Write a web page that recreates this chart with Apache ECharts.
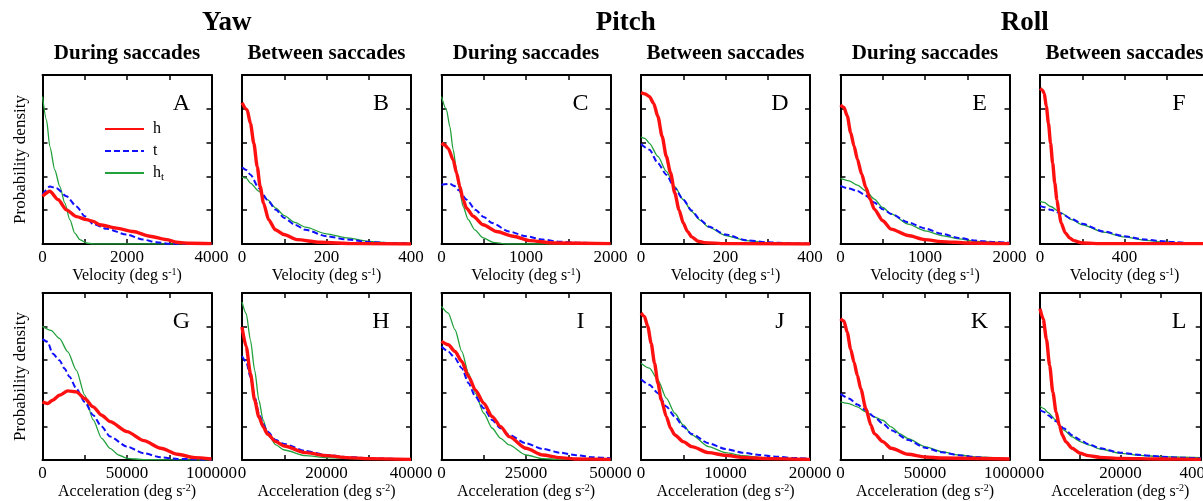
<!DOCTYPE html>
<html>
<head>
<meta charset="utf-8">
<script src="https://cdn.jsdelivr.net/npm/echarts@6/dist/echarts.min.js"></script>
<style>
html,body{margin:0;padding:0;background:#fff;overflow:hidden;}
#chart{width:1225px;height:501px;}
</style>
</head>
<body>
<div id="chart"></div>
<script>
// ---------- DATA ----------
const groupTitles = ['Yaw', 'Pitch', 'Roll'];
const columnTitles = ['During saccades', 'Between saccades'];
const panelLetters = ['A','B','C','D','E','F','G','H','I','J','K','L'];
const velocityMax = [4000, 400, 2000, 400, 2000, 800];
const accelerationMax = [100000, 40000, 50000, 20000, 100000, 40000];
const seriesNames = ['h', 't', 'h_t'];

// Row 1: velocity
const A_h  = [[0,1.41],[174,1.56],[371,1.31],[568,1.01],[805,0.81],[1041,0.72],[1199,0.67],[1357,0.57],[1751,0.47],[2146,0.37],[2541,0.23],[2935,0.13],[3172,0.05],[3500,0.02],[4000,0.01]];
const A_t  = [[0,1.46],[174,1.70],[331,1.65],[568,1.41],[805,1.11],[1002,0.82],[1199,0.59],[1515,0.45],[1988,0.28],[2383,0.13],[2698,0.05],[3014,0.01],[4000,0]];
const A_ht = [[0,4.36],[95,3.67],[174,2.88],[292,2.19],[410,1.70],[529,1.21],[647,0.72],[765,0.32],[884,0.13],[1041,0.03],[1200,0],[4000,0]];

const B_h  = [[0,4.18],[12,3.97],[20,3.57],[28,2.98],[36,2.29],[43,1.70],[51,1.21],[63,0.72],[79,0.42],[99,0.28],[130,0.13],[185,0.05],[264,0.01],[400,0]];
const B_t  = [[0,2.27],[10,2.19],[20,2.05],[40,1.65],[60,1.31],[80,1.01],[100,0.77],[125,0.57],[150,0.42],[200,0.23],[250,0.13],[300,0.06],[350,0.03],[400,0.01]];
const B_ht = [[0,1.98],[10,1.95],[20,1.80],[40,1.56],[60,1.31],[80,1.06],[100,0.84],[125,0.64],[150,0.50],[200,0.30],[250,0.18],[300,0.08],[350,0.03],[400,0.02]];

const C_h  = [[0,2.98],[39,2.93],[79,2.83],[138,2.49],[178,2.10],[217,1.70],[256,1.31],[296,1.06],[375,0.82],[493,0.57],[651,0.37],[848,0.23],[1045,0.10],[1321,0.03],[2000,0.01]];
const C_t  = [[0,1.75],[100,1.78],[150,1.72],[200,1.60],[300,1.31],[400,1.01],[500,0.80],[600,0.62],[800,0.37],[1000,0.23],[1200,0.13],[1400,0.07],[1600,0.04],[2000,0.01]];
const C_ht = [[0,4.36],[59,3.97],[99,3.47],[138,2.79],[178,2.19],[209,1.65],[256,1.11],[316,0.72],[394,0.42],[493,0.18],[611,0.05],[769,0],[2000,0]];

const D_h  = [[0,4.48],[10,4.44],[20,4.36],[30,4.16],[40,3.77],[50,3.18],[60,2.59],[70,2.10],[80,1.51],[90,1.01],[100,0.62],[110,0.37],[120,0.21],[135,0.08],[150,0.04],[200,0.01],[400,0]];
const D_t  = [[0,2.96],[20,2.79],[40,2.39],[60,2.05],[80,1.65],[100,1.31],[120,0.99],[140,0.72],[160,0.52],[200,0.28],[250,0.11],[300,0.05],[350,0.02],[400,0.01]];
const D_ht = [[0,3.16],[10,3.12],[20,2.98],[40,2.59],[60,2.15],[80,1.70],[100,1.31],[120,0.96],[140,0.70],[160,0.50],[200,0.25],[250,0.10],[300,0.04],[400,0.01]];

const E_h  = [[0,4.11],[40,4.04],[80,3.79],[120,3.30],[160,2.90],[200,2.51],[250,2.07],[300,1.67],[350,1.33],[400,1.03],[500,0.69],[600,0.44],[800,0.25],[1000,0.13],[1200,0.07],[1500,0.03],[2000,0.01]];
const E_t  = [[0,1.72],[100,1.64],[200,1.57],[300,1.43],[400,1.23],[500,1.03],[600,0.89],[800,0.64],[1000,0.46],[1200,0.30],[1400,0.18],[1600,0.10],[1800,0.06],[2000,0.04]];
const E_ht = [[0,1.94],[100,1.87],[200,1.74],[300,1.57],[400,1.33],[500,1.08],[600,0.89],[800,0.59],[1000,0.39],[1200,0.25],[1400,0.15],[1600,0.08],[2000,0.03]];

const F_h  = [[0,4.60],[10,4.56],[20,4.46],[30,4.07],[40,3.57],[50,2.98],[60,2.39],[70,1.80],[80,1.31],[90,0.92],[100,0.62],[120,0.33],[140,0.18],[160,0.10],[200,0.03],[300,0.01],[800,0.01]];
const F_t  = [[0,1.13],[20,1.09],[50,1.01],[100,0.90],[150,0.74],[200,0.60],[300,0.37],[400,0.23],[500,0.13],[600,0.07],[700,0.03],[800,0.02]];
const F_ht = [[0,1.26],[20,1.23],[50,1.11],[100,0.92],[150,0.72],[200,0.57],[300,0.35],[400,0.21],[500,0.11],[600,0.05],[800,0.02]];

// Row 2: acceleration
const G_h  = [[0,1.74],[3000,1.69],[6000,1.79],[10000,1.94],[15000,2.07],[20000,2.04],[25000,1.84],[30000,1.59],[35000,1.34],[40000,1.15],[50000,0.85],[60000,0.58],[70000,0.35],[80000,0.17],[90000,0.07],[100000,0.03]];
const G_t  = [[0,3.62],[3000,3.54],[6000,3.19],[10000,2.99],[13000,2.74],[16000,2.49],[20000,2.14],[25000,1.74],[30000,1.34],[35000,1.00],[40000,0.70],[50000,0.40],[60000,0.20],[70000,0.08],[80000,0.03],[100000,0.01]];
const G_ht = [[0,4.00],[5000,3.88],[10000,3.64],[15000,3.24],[20000,2.69],[25000,1.94],[30000,1.20],[35000,0.65],[40000,0.35],[45000,0.15],[50000,0.05],[60000,0.01],[100000,0]];

const H_h  = [[0,3.98],[1000,3.39],[2000,2.59],[3000,1.79],[4000,1.29],[5000,1.00],[6000,0.78],[8000,0.55],[10000,0.42],[15000,0.22],[20000,0.13],[25000,0.07],[30000,0.04],[40000,0.02]];
const H_t  = [[0,3.11],[1000,2.94],[2000,2.49],[3000,1.89],[4000,1.39],[5000,1.08],[6000,0.85],[8000,0.60],[10000,0.48],[15000,0.27],[20000,0.15],[25000,0.09],[30000,0.05],[40000,0.02]];
const H_ht = [[0,4.73],[1000,4.38],[2000,3.59],[3000,2.69],[4000,1.79],[5000,1.20],[6000,0.82],[8000,0.45],[10000,0.30],[15000,0.13],[20000,0.07],[30000,0.03],[40000,0.02]];

const I_h  = [[0,3.55],[2000,3.45],[4000,3.25],[6000,2.95],[8000,2.50],[10000,2.10],[12500,1.70],[15000,1.30],[17500,1.00],[20000,0.70],[25000,0.35],[30000,0.15],[35000,0.07],[40000,0.03],[50000,0.02]];
const I_t  = [[0,3.40],[2000,3.25],[4000,3.05],[6000,2.75],[8000,2.30],[10000,1.90],[12500,1.55],[15000,1.20],[17500,0.95],[20000,0.75],[25000,0.50],[30000,0.33],[35000,0.22],[40000,0.14],[45000,0.08],[50000,0.05]];
const I_ht = [[0,4.60],[2000,4.40],[4000,3.90],[6000,3.25],[8000,2.60],[10000,2.00],[12500,1.40],[15000,0.95],[17500,0.65],[20000,0.45],[25000,0.15],[30000,0.04],[35000,0.02],[50000,0.01]];

const J_h  = [[0,4.40],[400,4.30],[800,4.00],[1200,3.50],[1600,2.90],[2000,2.30],[2400,1.80],[3000,1.30],[3500,0.95],[4000,0.75],[5000,0.55],[6000,0.40],[8000,0.22],[10000,0.14],[12000,0.08],[15000,0.04],[20000,0.02]];
const J_t  = [[0,2.42],[1000,2.25],[2000,2.00],[3000,1.60],[4000,1.30],[5000,1.00],[6000,0.78],[8000,0.50],[10000,0.33],[12000,0.22],[14000,0.15],[16000,0.10],[18000,0.06],[20000,0.04]];
const J_ht = [[0,2.90],[1000,2.75],[2000,2.40],[3000,1.85],[4000,1.40],[5000,1.05],[6000,0.75],[8000,0.40],[10000,0.22],[12000,0.13],[15000,0.06],[20000,0.02]];

const K_h  = [[0,4.23],[2000,4.16],[4000,3.82],[6000,3.32],[8000,2.93],[10000,2.53],[12000,2.13],[15000,1.54],[18000,1.04],[20000,0.79],[25000,0.55],[30000,0.35],[40000,0.17],[50000,0.09],[60000,0.06],[100000,0.03]];
const K_t  = [[0,1.98],[5000,1.84],[10000,1.66],[15000,1.49],[20000,1.29],[25000,1.09],[30000,0.89],[40000,0.60],[50000,0.37],[60000,0.23],[70000,0.14],[80000,0.09],[90000,0.05],[100000,0.03]];
const K_ht = [[0,1.74],[5000,1.69],[10000,1.59],[15000,1.44],[20000,1.29],[25000,1.19],[30000,0.99],[35000,0.79],[40000,0.64],[50000,0.40],[60000,0.25],[70000,0.15],[80000,0.09],[100000,0.03]];

const L_h  = [[0,4.53],[800,4.22],[1600,3.62],[2400,2.83],[3200,2.03],[4000,1.44],[4800,1.04],[5600,0.74],[6400,0.55],[8000,0.35],[10000,0.20],[12000,0.13],[15000,0.08],[20000,0.05],[30000,0.03],[40000,0.02]];
const L_t  = [[0,1.49],[1000,1.44],[2000,1.34],[4000,1.16],[6000,0.94],[8000,0.74],[10000,0.60],[12000,0.48],[15000,0.35],[20000,0.22],[25000,0.15],[30000,0.10],[35000,0.07],[40000,0.05]];
const L_ht = [[0,1.61],[1000,1.54],[2000,1.42],[4000,1.19],[6000,0.89],[8000,0.69],[10000,0.55],[12000,0.45],[15000,0.33],[20000,0.20],[25000,0.14],[30000,0.10],[40000,0.07]];

const panelData = [
  [A_h, A_t, A_ht], [B_h, B_t, B_ht], [C_h, C_t, C_ht], [D_h, D_t, D_ht], [E_h, E_t, E_ht], [F_h, F_t, F_ht],
  [G_h, G_t, G_ht], [H_h, H_t, H_ht], [I_h, I_t, I_ht], [J_h, J_t, J_ht], [K_h, K_t, K_ht], [L_h, L_t, L_ht]
];

// ---------- LAYOUT / STYLE ----------
const FONT = "'Liberation Serif', 'DejaVu Serif', serif";
const colLeft = [42.5, 242, 441.5, 641, 840.5, 1040];
const panelW = 169;
const rowTop = [75, 293];
const rowH = [169, 167];
const colors = { h: '#ff1010', t: '#1010ff', h_t: '#22a03c' };

const grids = [], xAxes = [], yAxes = [], series = [], graphics = [];

function nameRich(kind) {
  return kind === 'v'
    ? '{n|Velocity (deg s}{s|-1}{n|)}'
    : '{n|Acceleration (deg s}{s|-2}{n|)}';
}
const nameStyle = {
  rich: {
    n: { fontFamily: FONT, fontSize: 16, color: '#000' },
    s: { fontFamily: FONT, fontSize: 10, color: '#000', padding: [0, 0, 8, 0] }
  }
};

for (let i = 0; i < 12; i++) {
  const row = Math.floor(i / 6), col = i % 6;
  const max = row === 0 ? velocityMax[col] : accelerationMax[col];
  const step = max / 4;
  grids.push({ left: colLeft[col], top: rowTop[row], width: panelW, height: rowH[row], containLabel: false });
  const axisLine = { show: true, onZero: false, lineStyle: { color: '#000', width: 2 } };
  const axisTick = { show: true, inside: true, length: 5, lineStyle: { color: '#000', width: 1.5 } };
  xAxes.push({
    gridIndex: i, type: 'value', min: 0, max: max, interval: step, position: 'bottom',
    axisLine, axisTick, splitLine: { show: false },
    axisLabel: {
      show: true, color: '#000', fontFamily: FONT, fontSize: 17, margin: 5,
      showMinLabel: true, showMaxLabel: i !== 5, hideOverlap: false,
      formatter: v => (Math.round(v / step) % 2 === 0 && !(i === 5 && v === max) ? String(v) : '')
    },
    name: nameRich(row === 0 ? 'v' : 'a'), nameLocation: 'middle', nameGap: 20, nameTextStyle: nameStyle
  });
  xAxes.push({
    gridIndex: i, type: 'value', min: 0, max: max, interval: step, position: 'top',
    axisLine, axisTick, splitLine: { show: false }, axisLabel: { show: false }
  });
  const yLeft = {
    gridIndex: i, type: 'value', min: 0, max: 5, interval: 1, position: 'left',
    axisLine, axisTick, splitLine: { show: false }, axisLabel: { show: false }
  };
  if (col === 0) {
    yLeft.name = 'Probability density';
    yLeft.nameLocation = 'middle';
    yLeft.nameGap = 13;
    yLeft.nameTextStyle = { fontFamily: FONT, fontSize: 17, color: '#000' };
  }
  yAxes.push(yLeft);
  yAxes.push({
    gridIndex: i, type: 'value', min: 0, max: 5, interval: 1, position: 'right',
    axisLine, axisTick, splitLine: { show: false }, axisLabel: { show: false }
  });

  // draw order: h_t, t, h (h on top)
  const order = [2, 1, 0];
  order.forEach(k => {
    const nm = seriesNames[k];
    const ls = k === 0 ? { color: colors.h, width: 3.4, type: 'solid' }
             : k === 1 ? { color: colors.t, width: 2, type: [6, 3] }
             : { color: colors.h_t, width: 1.3, type: 'solid' };
    series.push({
      type: 'line', name: nm, xAxisIndex: 2 * i, yAxisIndex: 2 * i,
      data: panelData[i][k], showSymbol: false, symbol: 'none',
      smooth: 0.25, smoothMonotone: 'x',
      lineStyle: ls, itemStyle: { color: ls.color },
      emphasis: { disabled: true }, silent: true, animation: false, z: 3 + (2 - k)
    });
  });

  graphics.push({
    type: 'text', x: colLeft[col] + panelW - 30, y: rowTop[row] + 29,
    style: { text: panelLetters[i], font: '24px ' + FONT, fill: '#000', textAlign: 'center', textVerticalAlign: 'middle' }
  });
}

// Titles
for (let g = 0; g < 3; g++) {
  const cx = (colLeft[2 * g] + colLeft[2 * g + 1] + panelW) / 2;
  graphics.push({
    type: 'text', x: cx, y: 23,
    style: { text: groupTitles[g], font: 'bold 27px ' + FONT, fill: '#000', textAlign: 'center', textVerticalAlign: 'middle' }
  });
  for (let c = 0; c < 2; c++) {
    const col = 2 * g + c;
    graphics.push({
      type: 'text', x: colLeft[col] + panelW / 2, y: 54,
      style: { text: columnTitles[c], font: 'bold 21px ' + FONT, fill: '#000', textAlign: 'center', textVerticalAlign: 'middle' }
    });
  }
}

const chart = echarts.init(document.getElementById('chart'), null, { renderer: 'canvas' });
chart.setOption({
  backgroundColor: '#fff',
  animation: false,
  grid: grids,
  xAxis: xAxes,
  yAxis: yAxes,
  series: series,
  legend: {
    data: seriesNames, orient: 'vertical', left: 99, top: 116,
    itemWidth: 39, itemHeight: 14, itemGap: 6, selectedMode: false,
    itemStyle: { color: 'rgba(0,0,0,0)', borderColor: 'rgba(0,0,0,0)', borderWidth: 0, opacity: 0 },
    formatter: n => (n === 'h_t' ? '{m|h}{sub|t}' : '{m|' + n + '}'),
    textStyle: {
      color: '#000', fontFamily: FONT, fontSize: 16, padding: [0, 0, 0, 4],
      rich: {
        m: { fontFamily: FONT, fontSize: 16, color: '#000' },
        sub: { fontFamily: FONT, fontSize: 11, color: '#000', padding: [8, 0, 0, 0] }
      }
    }
  },
  graphic: graphics
});
</script>
</body>
</html>
